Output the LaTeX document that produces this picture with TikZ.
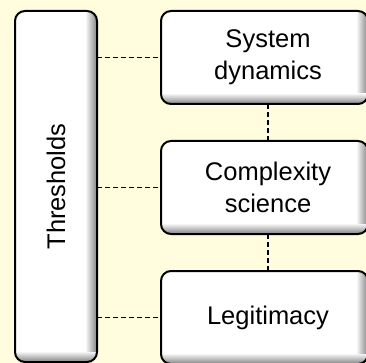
\documentclass[tikz,border=0pt]{standalone}
\usepackage{fontspec}
\setmainfont{Liberation Sans}
\definecolor{bg}{RGB}{255,253,222}
\definecolor{edgegray}{RGB}{130,130,130}
\begin{document}
\begin{tikzpicture}[x=1pt,y=-1pt,
  box/.style={fill=white, inner sep=0pt, outer sep=0pt, rounded corners=10pt},
  border/.style={draw=black, line width=2pt, rounded corners=10pt},
  link/.style={draw=black, line width=1.1pt, dash pattern=on 5pt off 3pt},
  lbl/.style={font=\fontsize{25.5}{32}\selectfont, align=center, text=black}]
\fill[bg] (0,0) rectangle (366,363);
\useasboundingbox (0,0) rectangle (366,363);
\clip (0,0) rectangle (366,363);
\node[box, minimum width=82pt, minimum height=351pt] (L) at (56,186.5) {};
\node[box, minimum width=207pt, minimum height=93pt] (B1) at (264.5,57.5) {};
\node[box, minimum width=207pt, minimum height=93pt] (B2) at (264.5,187.5) {};
\node[box, minimum width=207pt, minimum height=93pt] (B3) at (264.5,317.5) {};
\foreach \n in {L,B1,B2,B3}{
  \begin{scope}
    \clip[rounded corners=10pt] (\n.north west) rectangle (\n.south east);
    \shade[top color=white, bottom color=edgegray]
      ([yshift=11pt]\n.south west) rectangle (\n.south east);
    \shade[left color=white, right color=edgegray]
      ([xshift=-12pt]\n.north east) rectangle ([yshift=11pt]\n.south east);
  \end{scope}
  \draw[border] (\n.north west) rectangle (\n.south east);
}
\node[lbl, rotate=90] (tL) at (L.center) {Thresholds};
\node[lbl] (t1) at ([xshift=3.5pt]B1.center) {System\\dynamics};
\node[lbl] (t2) at ([xshift=3.5pt]B2.center) {Complexity\\science};
\node[lbl] (t3) at ([xshift=3.5pt]B3.center) {Legitimacy};
\draw[link] (B1.west -| L.east) -- (B1.west);
\draw[link] (B2.west -| L.east) -- (B2.west);
\draw[link] (B3.west -| L.east) -- (B3.west);
\draw[link] ([xshift=3.5pt]B1.south) -- ([xshift=3.5pt]B2.north);
\draw[link] ([xshift=3.5pt]B2.south) -- ([xshift=3.5pt]B3.north);
\end{tikzpicture}
\end{document}
